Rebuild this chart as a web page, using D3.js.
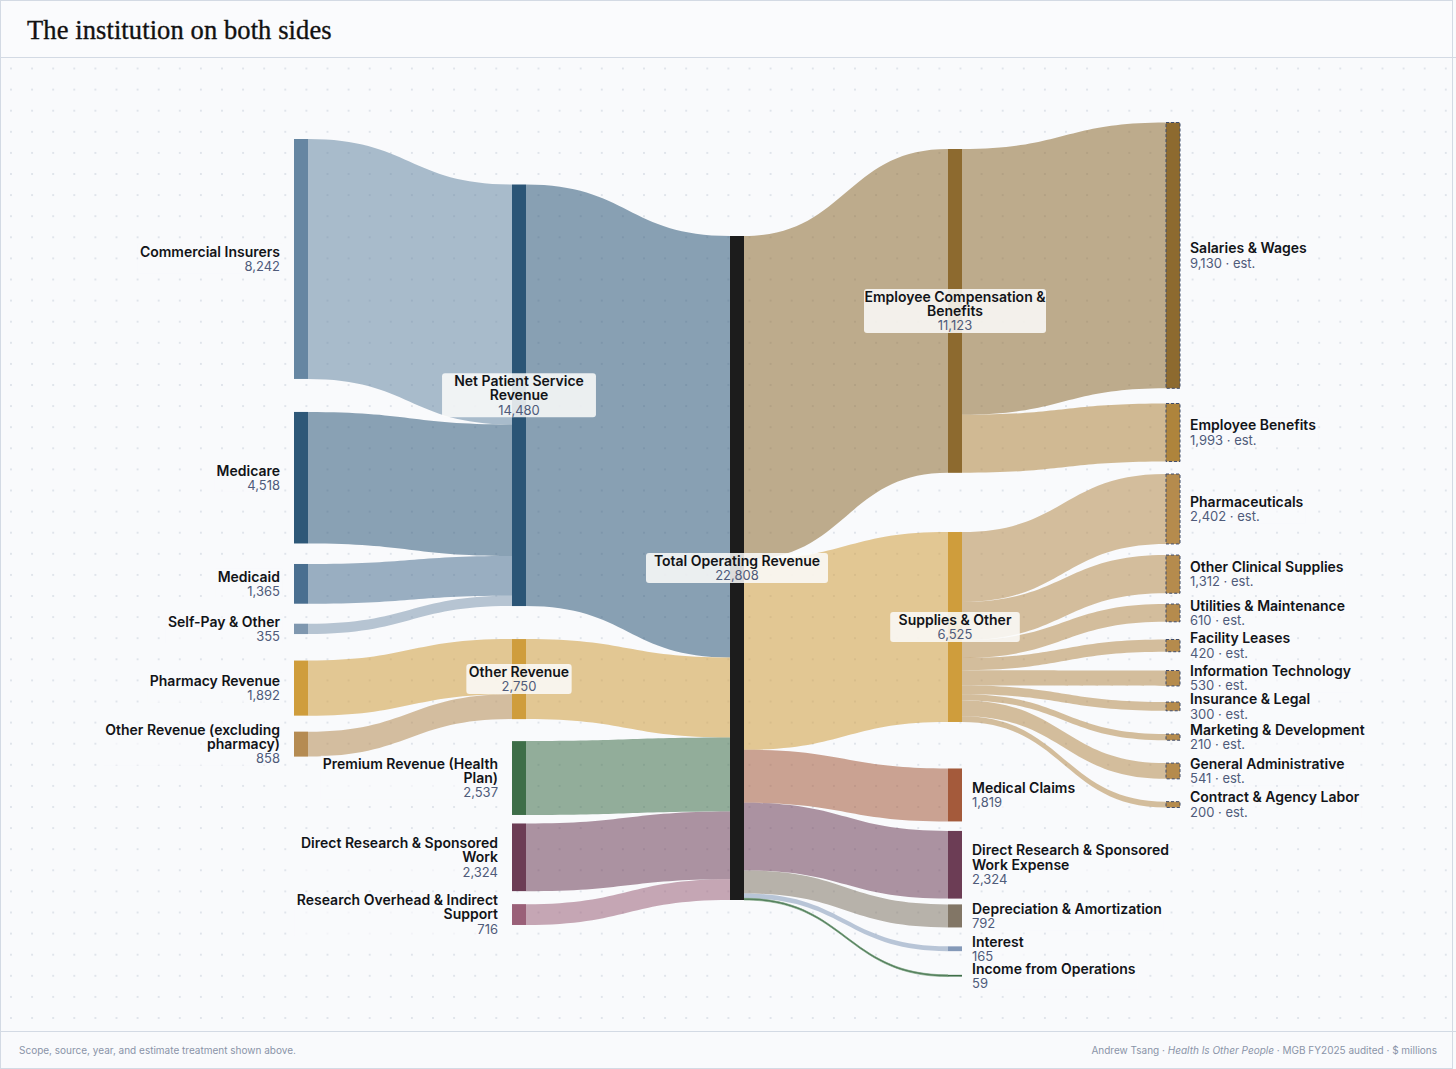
<!DOCTYPE html>
<html>
<head>
<meta charset="utf-8">
<script src="https://cdn.jsdelivr.net/npm/d3@7"></script>
<style>
  html, body { margin: 0; padding: 0; background: #f9fafc; }
  svg { display: block; }
  text { font-family: Inter, "Noto Sans", sans-serif; }
</style>
</head>
<body>
<svg id="chart" width="1456" height="1069"></svg>
<script>
// ---------------- DATA ----------------
const titleText = "The institution on both sides";
const footLeft = "Scope, source, year, and estimate treatment shown above.";

// Column 0: payer sources
const col0Names = ["Commercial Insurers", "Medicare", "Medicaid", "Self-Pay & Other", "Pharmacy Revenue", "Other Revenue (excluding pharmacy)"];
const col0Values = [8242, 4518, 1365, 355, 1892, 858];
const col0Colors = ["#6686a2", "#2e5878", "#4a6f90", "#7f97af", "#cf9d3c", "#b58b52"];

// Column 1: revenue groupings
const col1Names = ["Net Patient Service Revenue", "Other Revenue", "Premium Revenue (Health Plan)", "Direct Research & Sponsored Work", "Research Overhead & Indirect Support"];
const col1Values = [14480, 2750, 2537, 2324, 716];
const col1Colors = ["#2b5576", "#cf9d3c", "#3e6e48", "#6c3d55", "#9a6078"];

// Column 2: total
const col2Names = ["Total Operating Revenue"];
const col2Values = [22808];
const col2Colors = ["#1c1c1c"];

// Column 3: expense groupings
const col3Names = ["Employee Compensation & Benefits", "Supplies & Other", "Medical Claims", "Direct Research & Sponsored Work Expense", "Depreciation & Amortization", "Interest", "Income from Operations"];
const col3Values = [11123, 6525, 1819, 2324, 792, 165, 59];
const col3Colors = ["#8d6a2f", "#cf9d3c", "#a45a3b", "#6c3d55", "#827666", "#8499b8", "#3e6e48"];

// Column 4: estimated expense detail
const col4Names = ["Salaries & Wages", "Employee Benefits", "Pharmaceuticals", "Other Clinical Supplies", "Utilities & Maintenance", "Facility Leases", "Information Technology", "Insurance & Legal", "Marketing & Development", "General Administrative", "Contract & Agency Labor"];
const col4Values = [9130, 1993, 2402, 1312, 610, 420, 530, 300, 210, 541, 200];
const col4Colors = ["#8d6a2f", "#ae843c", "#b58b4d", "#b58b4d", "#b58b4d", "#b58b4d", "#b58b4d", "#b58b4d", "#b58b4d", "#b58b4d", "#b58b4d"];
const estimatedNodes = col4Names;

// Flows
const linkSources = [
  "Commercial Insurers", "Medicare", "Medicaid", "Self-Pay & Other",
  "Pharmacy Revenue", "Other Revenue (excluding pharmacy)",
  "Net Patient Service Revenue", "Other Revenue", "Premium Revenue (Health Plan)", "Direct Research & Sponsored Work", "Research Overhead & Indirect Support",
  "Total Operating Revenue", "Total Operating Revenue", "Total Operating Revenue", "Total Operating Revenue", "Total Operating Revenue", "Total Operating Revenue", "Total Operating Revenue",
  "Employee Compensation & Benefits", "Employee Compensation & Benefits",
  "Supplies & Other", "Supplies & Other", "Supplies & Other", "Supplies & Other", "Supplies & Other", "Supplies & Other", "Supplies & Other", "Supplies & Other", "Supplies & Other"
];
const linkTargets = [
  "Net Patient Service Revenue", "Net Patient Service Revenue", "Net Patient Service Revenue", "Net Patient Service Revenue",
  "Other Revenue", "Other Revenue",
  "Total Operating Revenue", "Total Operating Revenue", "Total Operating Revenue", "Total Operating Revenue", "Total Operating Revenue",
  "Employee Compensation & Benefits", "Supplies & Other", "Medical Claims", "Direct Research & Sponsored Work Expense", "Depreciation & Amortization", "Interest", "Income from Operations",
  "Salaries & Wages", "Employee Benefits",
  "Pharmaceuticals", "Other Clinical Supplies", "Utilities & Maintenance", "Facility Leases", "Information Technology", "Insurance & Legal", "Marketing & Development", "General Administrative", "Contract & Agency Labor"
];
const linkValues = [
  8242, 4518, 1365, 355,
  1892, 858,
  14480, 2750, 2537, 2324, 716,
  11123, 6525, 1819, 2324, 792, 165, 59,
  9130, 1993,
  2402, 1312, 610, 420, 530, 300, 210, 541, 200
];

// ---------------- LAYOUT (spacing only) ----------------
const W = 1456, H = 1069;
const nodeW = 14;
const columnGaps = [
  [139, 33, 20.5, 20, 26.5, 16],
  [184.5, 33, 22, 8.5, 13],
  [236],
  [149, 59.2, 46.5, 9.5, 5.8, 18.9, 23.7],
  [122.5, 15.2, 12.5, 11.1, 10.8, 17.7, 18.8, 16.1, 23.3, 22.9, 22.8]
];

const svg = d3.select("#chart");

// background + dot grid
const defs = svg.append("defs");
const pat = defs.append("pattern").attr("id", "dots").attr("patternUnits", "userSpaceOnUse")
  .attr("x", 0.45).attr("y", 57.95).attr("width", 21.1).attr("height", 21.1);
pat.append("circle").attr("cx", 10.55).attr("cy", 10.55).attr("r", 0.85).attr("fill", "#d3d9e2");

svg.append("rect").attr("width", W).attr("height", H).attr("fill", "#f9fafc");
svg.append("rect").attr("x", 1).attr("y", 58).attr("width", W - 2).attr("height", 973).attr("fill", "url(#dots)");
svg.append("rect").attr("x", 1).attr("y", 1).attr("width", W - 2).attr("height", 56).attr("fill", "#fafbfd");
svg.append("line").attr("x1", 0).attr("x2", W).attr("y1", 57.5).attr("y2", 57.5).attr("stroke", "#d3dae4");
svg.append("line").attr("x1", 0).attr("x2", W).attr("y1", 1031.5).attr("y2", 1031.5).attr("stroke", "#d3dae4");
svg.append("rect").attr("x", 0.5).attr("y", 0.5).attr("width", W - 4).attr("height", H - 1)
  .attr("fill", "none").attr("stroke", "#d3dae4");

// title
svg.append("text").attr("x", 27).attr("y", 39)
  .style("font-family", "'Liberation Serif', 'DejaVu Serif', serif")
  .style("font-size", "26.5px").style("letter-spacing", "0.1px")
  .attr("fill", "#111").attr("stroke", "#111").attr("stroke-width", 0.35)
  .text(titleText);

// footer
svg.append("text").attr("x", 19).attr("y", 1053.5).attr("fill", "#8a94a8")
  .style("font-size", "10px").text(footLeft);
const fr = svg.append("text").attr("x", 1437).attr("y", 1053.5).attr("text-anchor", "end")
  .attr("fill", "#8a94a8").style("font-size", "10px");
fr.append("tspan").text("Andrew Tsang · ");
fr.append("tspan").style("font-style", "italic").text("Health Is Other People");
fr.append("tspan").text(" · MGB FY2025 audited · $ millions");

// ---------------- BUILD NODES ----------------
const columns = [
  [col0Names, col0Values, col0Colors],
  [col1Names, col1Values, col1Colors],
  [col2Names, col2Values, col2Colors],
  [col3Names, col3Values, col3Colors],
  [col4Names, col4Values, col4Colors]
];
const totalValue = col2Values[0];
const hScale = d3.scaleLinear().domain([0, totalValue]).range([0, 664]);
const xScale = d3.scaleLinear().domain([0, 4]).range([294, 1166]);

const nodes = [];
const nodeByName = new Map();
columns.forEach(([names, values, colors], ci) => {
  let y = 0;
  names.forEach((n, i) => {
    y += columnGaps[ci][i];
    const h = hScale(values[i]);
    const node = { name: n, value: values[i], color: colors[i], col: ci,
      x0: xScale(ci), x1: xScale(ci) + nodeW, y0: y, y1: y + h,
      ins: [], outs: [], est: estimatedNodes.includes(n) };
    y += h;
    nodes.push(node);
    nodeByName.set(n, node);
  });
});

const links = linkSources.map((s, i) => {
  const l = { source: nodeByName.get(s), target: nodeByName.get(linkTargets[i]), value: linkValues[i] };
  l.source.outs.push(l); l.target.ins.push(l);
  return l;
});
nodes.forEach(n => {
  let y = n.y0;
  n.outs.forEach(l => { l.sy0 = y; y += hScale(l.value); l.sy1 = y; });
  y = n.y0;
  n.ins.forEach(l => { l.ty0 = y; y += hScale(l.value); l.ty1 = y; });
});

function bandPath(l) {
  const x0 = l.source.x1, x1 = l.target.x0, xm = (x0 + x1) / 2;
  return `M${x0},${l.sy0}C${xm},${l.sy0} ${xm},${l.ty0} ${x1},${l.ty0}` +
         `L${x1},${l.ty1}C${xm},${l.ty1} ${xm},${l.sy1} ${x0},${l.sy1}Z`;
}

// links
svg.append("g").selectAll("path").data(links).join("path")
  .attr("d", bandPath)
  .attr("fill", l => (l.target.col > 2 ? l.target.color : l.source.color))
  .attr("fill-opacity", l => l.target.name === "Income from Operations" ? 0.9 : 0.55)
  .attr("stroke", l => l.target.name === "Income from Operations" ? "#6f9a73" : "none")
  .attr("stroke-width", 0.6);

// nodes
svg.append("g").selectAll("rect").data(nodes).join("rect")
  .attr("x", d => d.x0).attr("y", d => d.y0)
  .attr("width", d => d.x1 - d.x0).attr("height", d => Math.max(1.5, d.y1 - d.y0))
  .attr("fill", d => d.color)
  .attr("stroke", d => d.est ? "#3f4c6b" : "none")
  .attr("stroke-width", 1)
  .attr("stroke-dasharray", d => d.est ? "3,2" : null);

// ---------------- LABELS ----------------
function wrap(str, maxChars) {
  const words = str.split(" ");
  const lines = [];
  let cur = "";
  words.forEach(w => {
    const t = cur ? cur + " " + w : w;
    if (t.length > maxChars && cur) { lines.push(cur); cur = w; }
    else cur = t;
  });
  if (cur) lines.push(cur);
  return lines;
}
const fmt = d3.format(",");
const lineH = 14.2;
const bgLayer = svg.append("g");
const textLayer = svg.append("g");

nodes.forEach(n => {
  const isSource = n.ins.length === 0;
  const isSink = n.outs.length === 0;
  const cy = (n.y0 + n.y1) / 2;
  const valText = fmt(n.value) + (n.est ? " · est." : "");
  let anchor, x, lines;
  if (!isSource && !isSink) {
    lines = wrap(n.name, 24);
    anchor = "middle"; x = (n.x0 + n.x1) / 2;
  } else if (isSource) {
    lines = wrap(n.name, 28);
    anchor = "end"; x = n.x0 - 14;
  } else {
    lines = wrap(n.name, 28);
    anchor = "start"; x = n.x1 + 10;
  }
  const total = lines.length + 1;
  const top = cy - (total * lineH) / 2;
  const t = textLayer.append("text").attr("text-anchor", anchor);
  lines.forEach((ln, i) => {
    t.append("tspan").attr("x", x).attr("y", top + lineH * i + lineH / 2)
      .attr("dy", "0.35em").style("font-size", "14px").style("font-weight", 600)
      .attr("fill", "#121418").text(ln);
  });
  t.append("tspan").attr("x", x).attr("y", top + lineH * lines.length + lineH / 2 + 0.5)
    .attr("dy", "0.35em").style("font-size", "13px").style("font-weight", 400)
    .attr("fill", "#4f5b7a").text(valText);
  const bb = t.node().getBBox();
  if (anchor === "middle") {
    const longest = d3.max(lines, s => s.length);
    const bw = Math.min(182, longest * 8.1);
    const bh = total * 14 + 2;
    bgLayer.append("rect").attr("x", x - bw / 2).attr("y", cy - bh / 2).attr("width", bw).attr("height", bh)
      .attr("rx", 3).attr("fill", "#fbfbfa").attr("fill-opacity", 0.86);
  } else {
    bgLayer.append("rect").attr("x", bb.x - 2).attr("y", bb.y + 1).attr("width", bb.width + 4).attr("height", bb.height - 2)
      .attr("fill", "#f9fafc").attr("fill-opacity", 0.7);
  }
});
</script>
</body>
</html>
